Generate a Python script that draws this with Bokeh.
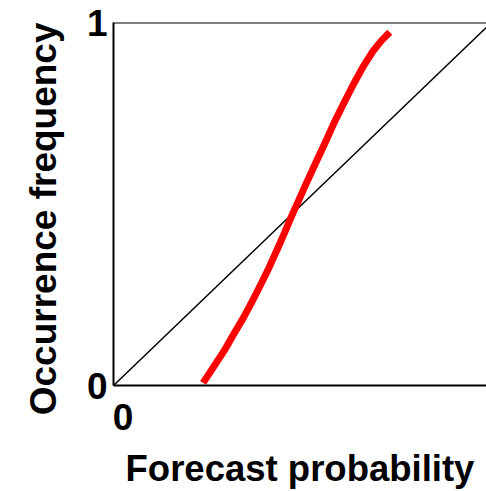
from bokeh.plotting import figure
from bokeh.models import Range1d, FixedTicker, Span, Title
from bokeh.embed import file_html
from bokeh.resources import INLINE

# Reliability curve (forecast probability vs occurrence frequency)
curve_x = [0.237, 0.267, 0.293, 0.316, 0.344, 0.368, 0.391, 0.413, 0.432, 0.452, 0.471,
           0.490, 0.511, 0.538, 0.560, 0.583, 0.609, 0.636, 0.661, 0.688, 0.709, 0.731]
curve_y = [0.007, 0.055, 0.096, 0.138, 0.187, 0.234, 0.281, 0.328, 0.372, 0.419, 0.466,
           0.510, 0.559, 0.620, 0.669, 0.722, 0.777, 0.832, 0.879, 0.923, 0.950, 0.973]
diag_x = [0, 1]
diag_y = [0, 1]
x_ticks = [0.025, 1.025]
x_tick_labels = {0.025: "0", 1.025: "1"}
y_ticks = [0, 1]
y_tick_labels = {0: "0", 1: "1"}
x_title = "Forecast probability"
y_title = "Occurrence frequency"

FONT = "Liberation Sans"

p = figure(width=486, height=491, output_backend="svg", toolbar_location=None,
           x_range=Range1d(0, 0.987), y_range=Range1d(0, 1),
           min_border_left=113, min_border_right=0, min_border_top=22, min_border_bottom=106)
p.outline_line_color = None
p.grid.visible = False
p.background_fill_color = "white"
p.border_fill_color = "white"

p.line(diag_x, diag_y, line_color="black", line_width=1.5)
p.line(curve_x, curve_y, line_color="#ff0000", line_width=7, line_join="round")

p.add_layout(Span(location=1, dimension="width", line_color="black", line_width=2))

xax = p.xaxis[0]
yax = p.yaxis[0]
for ax in (xax, yax):
    ax.axis_line_width = 2
    ax.axis_line_color = "black"
    ax.major_tick_in = 0
    ax.major_tick_out = 0
    ax.minor_tick_in = 0
    ax.minor_tick_out = 0
    ax.major_label_text_font = FONT
    ax.major_label_text_font_style = "bold"
    ax.major_label_text_font_size = "37px"
    ax.major_label_text_color = "black"
    ax.axis_label_text_font = FONT
    ax.axis_label_text_font_style = "bold"
    ax.axis_label_text_font_size = "36.5px"
    ax.axis_label_text_color = "black"

xax.ticker = FixedTicker(ticks=x_ticks)
xax.major_label_overrides = x_tick_labels
yax.ticker = FixedTicker(ticks=y_ticks)
yax.major_label_overrides = y_tick_labels

xax.axis_label = x_title
xax.major_label_standoff = 18
xax.axis_label_standoff = 15
yax.major_label_standoff = 6

p.add_layout(Title(text=y_title, align="right", offset=0, standoff=40,
                   text_font=FONT, text_font_style="bold", text_font_size="37px",
                   text_color="black"), "left")

open("out.html", "w").write(file_html(p, INLINE))
